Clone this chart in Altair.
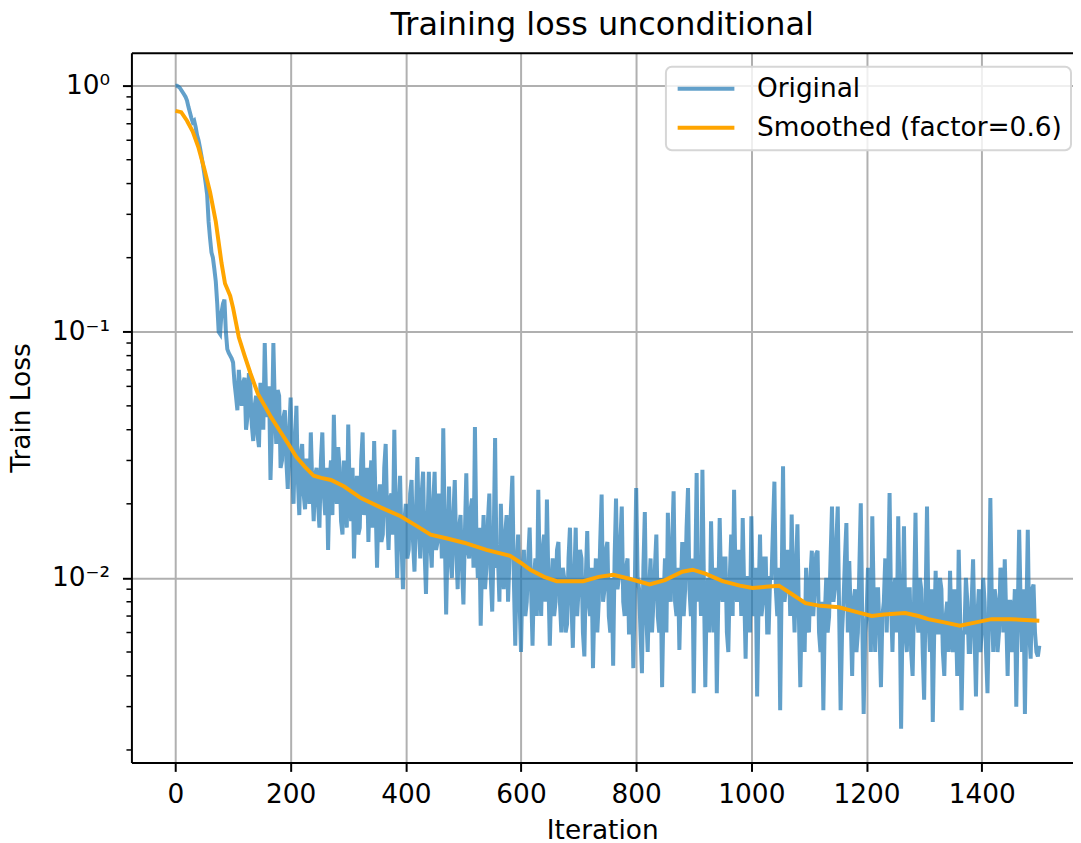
import altair as alt
import pandas as pd

# ---- data ----
# "Original" loss, one value every 2.5 iterations (0 .. 1500)
ORIG = [
    1.00, 1.00, 0.99, 0.98, 0.96, 0.94, 0.92, 0.90, 0.87, 0.82, 0.78, 0.74, 0.71, 0.72, 0.68, 0.63, 0.60, 0.56, 0.52, 0.48,
    0.44, 0.40, 0.36, 0.28, 0.24, 0.21, 0.20, 0.18, 0.16, 0.13, 0.10, 0.098, 0.12, 0.13, 0.135, 0.10, 0.085, 0.082, 0.080, 0.078,
    0.075, 0.062, 0.055, 0.048, 0.07, 0.058, 0.05, 0.062, 0.065, 0.040, 0.045, 0.068, 0.06, 0.042, 0.036, 0.050, 0.055, 0.038, 0.034, 0.062,
    0.05, 0.040, 0.090, 0.052, 0.045, 0.060, 0.025, 0.040, 0.090, 0.050, 0.035, 0.058, 0.055, 0.028, 0.030, 0.045, 0.048, 0.030, 0.023, 0.040,
    0.054, 0.030, 0.020, 0.035, 0.050, 0.025, 0.018, 0.032, 0.035, 0.022, 0.019, 0.030, 0.030, 0.020, 0.039, 0.024, 0.017, 0.026, 0.028, 0.020,
    0.016, 0.030, 0.039, 0.022, 0.018, 0.028, 0.013, 0.024, 0.030, 0.018, 0.046, 0.025, 0.020, 0.034, 0.028, 0.017, 0.015, 0.030, 0.025, 0.016,
    0.042, 0.022, 0.017, 0.028, 0.012, 0.020, 0.026, 0.015, 0.016, 0.030, 0.039, 0.018, 0.020, 0.028, 0.014, 0.024, 0.030, 0.016, 0.036, 0.020,
    0.011, 0.020, 0.024, 0.014, 0.015, 0.028, 0.035, 0.018, 0.013, 0.021, 0.022, 0.015, 0.040, 0.018, 0.010, 0.019, 0.026, 0.014, 0.009, 0.017,
    0.020, 0.012, 0.013, 0.022, 0.025, 0.014, 0.0106, 0.018, 0.031, 0.016, 0.012, 0.022, 0.027, 0.013, 0.0086, 0.016, 0.027, 0.014, 0.011, 0.020,
    0.027, 0.013, 0.014, 0.022, 0.020, 0.012, 0.0405, 0.016, 0.0071, 0.014, 0.0235, 0.012, 0.010, 0.018, 0.025, 0.013, 0.009, 0.016, 0.018, 0.011,
    0.0078, 0.015, 0.0266, 0.013, 0.012, 0.019, 0.021, 0.011, 0.041, 0.015, 0.010, 0.016, 0.0064, 0.012, 0.018, 0.009, 0.011, 0.017, 0.022, 0.010,
    0.0073, 0.014, 0.037, 0.011, 0.012, 0.008, 0.020, 0.012, 0.009, 0.015, 0.018, 0.008, 0.012, 0.019, 0.026, 0.010, 0.0053, 0.011, 0.015, 0.008,
    0.005, 0.010, 0.013, 0.007, 0.008, 0.012, 0.016, 0.009, 0.0053, 0.010, 0.012, 0.007, 0.0228, 0.010, 0.007, 0.013, 0.015, 0.008, 0.0208, 0.010,
    0.0053, 0.009, 0.012, 0.007, 0.008, 0.013, 0.014, 0.008, 0.006, 0.011, 0.010, 0.006, 0.0065, 0.012, 0.016, 0.008, 0.0052, 0.010, 0.016, 0.007,
    0.009, 0.013, 0.012, 0.006, 0.0048, 0.010, 0.0155, 0.008, 0.007, 0.011, 0.0043, 0.008, 0.012, 0.006, 0.008, 0.014, 0.0218, 0.008, 0.009, 0.013,
    0.014, 0.007, 0.006, 0.010, 0.0044, 0.012, 0.021, 0.009, 0.010, 0.014, 0.0195, 0.008, 0.007, 0.011, 0.012, 0.006, 0.006, 0.010, 0.0043, 0.009,
    0.0232, 0.010, 0.009, 0.006, 0.0041, 0.011, 0.0185, 0.007, 0.005, 0.009, 0.012, 0.006, 0.008, 0.011, 0.015, 0.007, 0.006, 0.010, 0.0036, 0.008,
    0.012, 0.006, 0.0184, 0.009, 0.008, 0.014, 0.0225, 0.008, 0.007, 0.011, 0.0051, 0.009, 0.014, 0.007, 0.009, 0.016, 0.0232, 0.009, 0.007, 0.012,
    0.0034, 0.010, 0.0267, 0.008, 0.012, 0.007, 0.0275, 0.010, 0.0036, 0.009, 0.010, 0.006, 0.017, 0.009, 0.006, 0.011, 0.0034, 0.008, 0.0175, 0.009,
    0.008, 0.012, 0.012, 0.006, 0.005, 0.010, 0.015, 0.007, 0.0228, 0.010, 0.008, 0.013, 0.012, 0.007, 0.0175, 0.009, 0.0047, 0.010, 0.010, 0.006,
    0.0178, 0.008, 0.007, 0.011, 0.0033, 0.008, 0.015, 0.007, 0.008, 0.012, 0.012, 0.006, 0.006, 0.010, 0.010, 0.016, 0.0246, 0.009, 0.007, 0.011,
    0.0029, 0.009, 0.0284, 0.008, 0.009, 0.013, 0.012, 0.007, 0.0181, 0.009, 0.006, 0.011, 0.0165, 0.007, 0.0036, 0.008, 0.008, 0.005, 0.011, 0.007,
    0.006, 0.010, 0.0129, 0.007, 0.009, 0.0125, 0.0129, 0.006, 0.005, 0.008, 0.0029, 0.007, 0.010, 0.006, 0.007, 0.012, 0.0195, 0.008, 0.009, 0.014,
    0.0195, 0.007, 0.0029, 0.006, 0.008, 0.012, 0.0167, 0.006, 0.0117, 0.007, 0.004, 0.008, 0.009, 0.005, 0.006, 0.011, 0.0201, 0.007, 0.0028, 0.006,
    0.007, 0.011, 0.010, 0.005, 0.0178, 0.008, 0.005, 0.009, 0.009, 0.006, 0.0036, 0.007, 0.008, 0.012, 0.006, 0.010, 0.0221, 0.008, 0.005, 0.009,
    0.010, 0.006, 0.0178, 0.008, 0.00244, 0.007, 0.0162, 0.006, 0.005, 0.009, 0.009, 0.005, 0.004, 0.008, 0.0184, 0.007, 0.006, 0.010, 0.009, 0.005,
    0.0032, 0.008, 0.0195, 0.007, 0.005, 0.009, 0.0026, 0.006, 0.0107, 0.006, 0.006, 0.010, 0.009, 0.005, 0.004, 0.007, 0.008, 0.005, 0.0107, 0.006,
    0.005, 0.009, 0.007, 0.004, 0.013, 0.007, 0.0029, 0.006, 0.006, 0.010, 0.008, 0.005, 0.005, 0.008, 0.0119, 0.006, 0.0033, 0.007, 0.009, 0.005,
    0.006, 0.010, 0.008, 0.005, 0.0034, 0.007, 0.0211, 0.008, 0.005, 0.009, 0.008, 0.005, 0.006, 0.011, 0.010, 0.006, 0.0119, 0.007, 0.004, 0.008,
    0.008, 0.005, 0.006, 0.009, 0.0030, 0.007, 0.0157, 0.008, 0.005, 0.009, 0.0028, 0.007, 0.0157, 0.006, 0.0047, 0.009, 0.0094, 0.006, 0.005, 0.0048,
    0.0053,
]
ORIG_ITER = [2.5 * i for i in range(len(ORIG))]

# "Smoothed" curve, read at irregular iterations
SMOOTH_ITER = [
    0, 10, 20, 30, 40, 50, 60, 70, 80, 86, 95, 100, 110, 120, 130, 143,
    155, 166, 180, 195, 210, 224, 240, 253, 270, 293, 322, 357, 391, 420,
    443, 470, 501, 540, 581, 600, 616, 640, 662, 708, 735, 760, 790, 823,
    850, 880, 898, 920, 950, 980, 1002, 1025, 1048, 1070, 1094, 1120, 1152,
    1180, 1209, 1230, 1267, 1290, 1307, 1335, 1362, 1390, 1417, 1450, 1500,
]
SMOOTH = [
    0.79, 0.78, 0.72, 0.65, 0.56, 0.46, 0.37, 0.28, 0.19, 0.157, 0.14, 0.125,
    0.095, 0.08, 0.068, 0.056, 0.050, 0.045, 0.040, 0.0353, 0.031, 0.0284,
    0.026, 0.0255, 0.025, 0.0235, 0.0211, 0.0193, 0.0178, 0.0162, 0.015,
    0.0145, 0.0139, 0.013, 0.0123, 0.0115, 0.0108, 0.0101, 0.0097, 0.0097,
    0.0101, 0.0103, 0.0099, 0.0094, 0.0098, 0.0106, 0.0108, 0.0104, 0.0097,
    0.0093, 0.0091, 0.0092, 0.0093, 0.0086, 0.0079, 0.0077, 0.0076, 0.0073,
    0.0070, 0.0071, 0.0072, 0.0070, 0.0068, 0.0066, 0.0064, 0.0066, 0.0068,
    0.0068, 0.0067,
]

SERIES = ["Original", "Smoothed (factor=0.6)"]
COLORS = ["rgba(31,119,180,0.7)", "#ffa500"]
X_TICKS = [0, 200, 400, 600, 800, 1000, 1200, 1400]
Y_MAJOR = [0.01, 0.1, 1]
Y_MINOR = [0.002, 0.003, 0.004, 0.005, 0.006, 0.007, 0.008, 0.009,
           0.02, 0.03, 0.04, 0.05, 0.06, 0.07, 0.08, 0.09,
           0.2, 0.3, 0.4, 0.5, 0.6, 0.7, 0.8, 0.9]

df_orig = pd.DataFrame({"iter": ORIG_ITER, "loss": ORIG, "series": SERIES[0]})
df_smooth = pd.DataFrame({"iter": SMOOTH_ITER, "loss": SMOOTH, "series": SERIES[1]})
df_minor = pd.DataFrame({"loss": Y_MINOR})

FONT = "DejaVu Sans"
FS = 26.5
W, H = 946, 713

x_scale = alt.Scale(domain=[-76.5, 1558.5], nice=False, zero=False)
y_scale = alt.Scale(type="log", domain=[0.00178, 1.36], nice=False)

color = alt.Color(
    "series:N",
    scale=alt.Scale(domain=SERIES, range=COLORS),
    legend=alt.Legend(
        title=None, orient="none", legendX=537, legendY=14,
        symbolType="M-1.1,0L4.9,0", symbolSize=361, symbolStrokeWidth=4,
        labelFont=FONT, labelFontSize=FS, labelColor="black", labelOffset=56,
        labelLimit=0, padding=9, rowPadding=12,
        strokeColor="#d6d6d6", fillColor="rgba(255,255,255,0.8)", cornerRadius=6,
    ),
)

x_bottom = alt.Axis(
    values=X_TICKS, format="d", title="Iteration", grid=True,
    gridColor="#b0b0b0", gridWidth=2, domainColor="black", domainWidth=2,
    tickColor="black", tickWidth=2, tickSize=9, labelFont=FONT, labelFontSize=FS,
    labelColor="black", labelPadding=31, labelBaseline="alphabetic",
    labelFlush=False, labelOverlap=False,
    titleFont=FONT, titleFontSize=FS, titleFontWeight="normal", titleColor="black",
    titleX=W / 2, titleY=76, titleBaseline="alphabetic", titleAlign="center",
)
x_top = alt.Axis(
    orient="top", domain=True, domainColor="black", domainWidth=2,
    ticks=False, labels=False, grid=False, title=None,
)
y_left = alt.Axis(
    values=Y_MAJOR,
    labelExpr="datum.value >= 0.5 ? '10⁰' : (datum.value >= 0.05 ? '10⁻¹' : '10⁻²')",
    grid=True, gridColor="#b0b0b0", gridWidth=2, domainColor="black", domainWidth=2,
    tickColor="black", tickWidth=2, tickSize=9, labelFont=FONT, labelFontSize=FS,
    labelColor="black", labelPadding=13, labelBaseline="middle", labelOverlap=False,
    title="Train Loss", titleFont=FONT, titleFontSize=FS, titleFontWeight="normal",
    titleColor="black", titleX=-102, titleY=H / 2, titleAngle=270,
    titleBaseline="alphabetic", titleAlign="center",
)

minor = alt.Chart(df_minor).mark_rule(color="black", strokeWidth=1.5).encode(
    x=alt.value(-5), x2=alt.value(0),
    y=alt.Y("loss:Q", scale=y_scale, axis=y_left),
)
orig = alt.Chart(df_orig).mark_line(strokeWidth=4).encode(
    x=alt.X("iter:Q", scale=x_scale, axis=x_bottom),
    y=alt.Y("loss:Q", scale=y_scale, axis=y_left),
    color=color,
)
smooth = alt.Chart(df_smooth).mark_line(strokeWidth=4).encode(
    x=alt.X("iter:Q", scale=x_scale, axis=x_top),
    y=alt.Y("loss:Q", scale=y_scale, axis=y_left),
    color=color,
)

chart = (
    alt.layer(minor, orig, smooth)
    .resolve_axis(x="independent", y="shared")
    .properties(
        width=W, height=H, autosize="none",
        padding={"left": 124, "top": 43, "right": 0, "bottom": 79},
        title=alt.TitleParams(
            "Training loss unconditional", font=FONT, fontSize=32,
            fontWeight="normal", color="black", anchor="middle",
            baseline="alphabetic", offset=-14,
        ),
    )
    .configure_view(stroke=None)
    .configure_legend(strokeWidth=2)
)

chart.save("out.html", embed_options={"renderer": "svg", "actions": False})
